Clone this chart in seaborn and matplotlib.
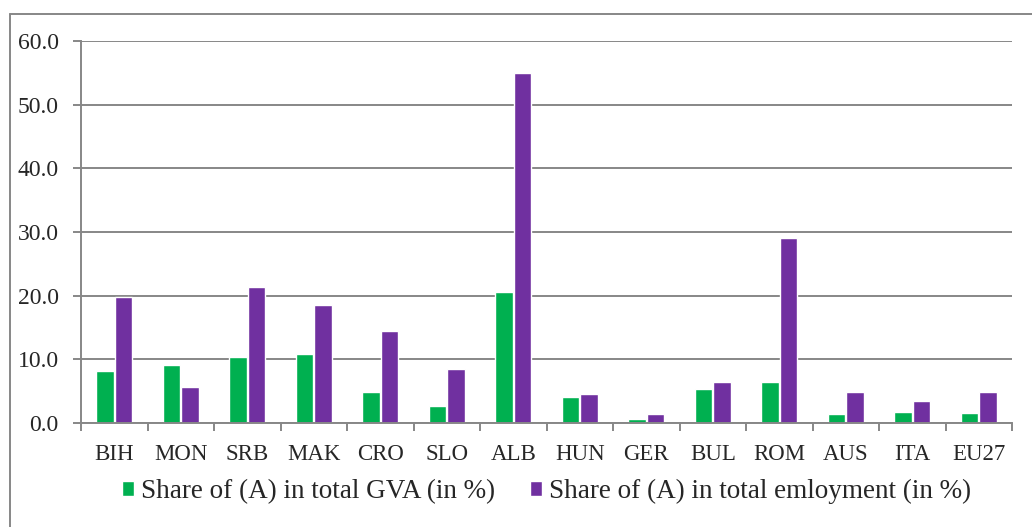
import numpy as np
import pandas as pd
import matplotlib
matplotlib.use('Agg')
import matplotlib.pyplot as plt
import seaborn as sns
from matplotlib.lines import Line2D

countries = ['BIH', 'MON', 'SRB', 'MAK', 'CRO', 'SLO', 'ALB',
             'HUN', 'GER', 'BUL', 'ROM', 'AUS', 'ITA', 'EU27']
gva_share = [8.1, 9.1, 10.4, 10.8, 4.8, 2.6, 20.5,
             4.1, 0.6, 5.4, 6.4, 1.4, 1.8, 1.5]
emp_share = [19.8, 5.7, 21.4, 18.6, 14.5, 8.5, 54.9,
             4.6, 1.4, 6.5, 29.0, 4.9, 3.5, 4.8]
series_names = ['Share of (A) in total GVA (in %)',
                'Share of (A) in total emloyment (in %)']
colors = ['#00B050', '#7030A0']

def main():
    df = pd.DataFrame({
        'country': countries * 2,
        'value': gva_share + emp_share,
        'series': [series_names[0]] * len(countries) + [series_names[1]] * len(countries),
    })

    sns.set_style('white')
    plt.rcParams['font.family'] = ['Liberation Serif', 'DejaVu Serif']

    fig = plt.figure(figsize=(10.32, 5.27), dpi=100)
    W, H = 1032, 527
    ax = fig.add_axes([81 / W, 1 - 423 / H, (1012 - 81) / W, (423 - 41) / H])

    sns.barplot(data=df, x='country', y='value', hue='series',
                palette=dict(zip(series_names, colors)), order=countries,
                width=0.56, gap=0.06, edgecolor='white', linewidth=1,
                saturation=1, ax=ax)

    grid_col = '#878787'
    ax.set_ylim(0, 60)
    ax.set_xlim(-0.5, len(countries) - 0.5)
    ax.set_yticks(np.arange(0, 61, 10))
    ax.set_yticklabels([f'{v:.1f}' for v in np.arange(0, 61, 10)])
    ax.yaxis.grid(True, color=grid_col, linewidth=1.4)
    ax.set_axisbelow(True)
    ax.set_xlabel('')
    ax.set_ylabel('')

    for s in ['top', 'right']:
        ax.spines[s].set_visible(False)
    for s in ['left', 'bottom']:
        ax.spines[s].set_color(grid_col)
        ax.spines[s].set_linewidth(1.4)

    ax.set_xticks(np.arange(-0.5, len(countries), 1), minor=True)
    ax.tick_params(axis='x', which='major', length=0, pad=15, labelsize=16.5)
    ax.tick_params(axis='x', which='minor', length=6, width=1.4,
                   color=grid_col, direction='out', bottom=True)
    ax.tick_params(axis='y', length=6, width=1.4, color=grid_col,
                   direction='out', left=True, pad=10, labelsize=17)

    ax.legend(loc='center', bbox_to_anchor=(0.5, -0.18), ncol=2,
              frameon=False, fontsize=19.5, handlelength=0.45,
              handleheight=0.45, handletextpad=0.25, columnspacing=1.3)

    # outer chart frame (left and top edges)
    fig.add_artist(Line2D([10 / W, 10 / W], [0, 1 - 14 / H],
                          transform=fig.transFigure, color=grid_col, lw=1.4))
    fig.add_artist(Line2D([10 / W, 1], [1 - 14 / H, 1 - 14 / H],
                          transform=fig.transFigure, color=grid_col, lw=1.4))

    fig.savefig('out.png', dpi=100)

if __name__ == "__main__":
    main()
